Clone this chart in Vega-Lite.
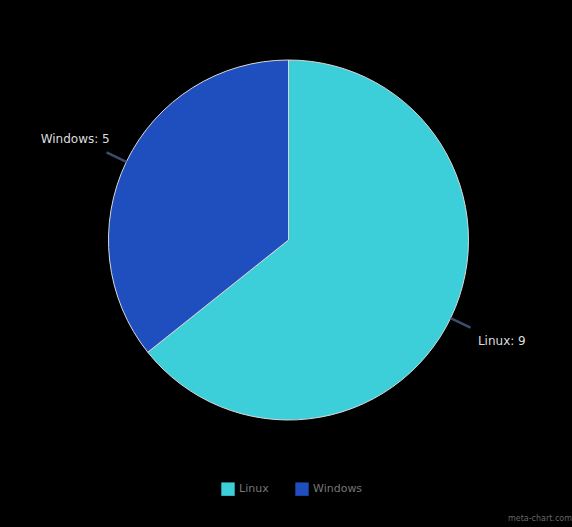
{
  "$schema": "https://vega.github.io/schema/vega-lite/v6.json",
  "autosize": {"type": "fit", "contains": "padding"},
  "width": 572,
  "height": 527,
  "padding": {"left": 5, "top": 5, "right": 0, "bottom": 4},
  "background": "#000000",
  "config": {"view": {"stroke": null, "fill": "#000000"}},
  "title": {"text": "meta-chart.com", "orient": "bottom", "anchor": "end", "fontSize": 8, "fontWeight": "normal", "color": "#666666", "offset": 40, "font": "DejaVu Sans"},
  "data": {"values": [
    {"category": "Linux", "value": 9, "order": 1, "label": "Linux: 9"},
    {"category": "Windows", "value": 5, "order": 2, "label": "Windows: 5"}
  ]},
  "transform": [
    {"stack": "value", "groupby": [], "sort": [{"field": "order"}], "as": ["s0", "s1"]},
    {"calculate": "(datum.s0 + datum.s1) / 2 - 0.015", "as": "m0"},
    {"calculate": "(datum.s0 + datum.s1) / 2 + 0.015", "as": "m1"}
  ],
  "layer": [
    {
      "mark": {"type": "arc", "radius": 180, "stroke": "#d8d8d8", "strokeWidth": 1},
      "encoding": {
        "theta": {"field": "s0", "type": "quantitative", "scale": {"domain": [0, 14], "range": [0, 6.283185]}},
        "theta2": {"field": "s1"},
        "color": {"field": "category", "type": "nominal", "sort": ["Linux", "Windows"],
          "scale": {"domain": ["Linux", "Windows"], "range": ["#3ccfd9", "#1f4fbe"]},
          "legend": {"orient": "none", "legendX": 216, "legendY": 477, "direction": "horizontal", "title": null, "symbolType": "square", "symbolSize": 180, "symbolStrokeWidth": 0,
            "labelColor": "#777777", "labelFontSize": 11, "labelFont": "DejaVu Sans", "columnPadding": 26}}
      }
    },
    {
      "mark": {"type": "arc", "radius": 202, "radius2": 180, "color": "#3c4c6c"},
      "encoding": {
        "theta": {"field": "m0", "type": "quantitative", "scale": {"domain": [0, 14], "range": [0, 6.283185]}},
        "theta2": {"field": "m1"}
      }
    },
    {
      "mark": {"type": "text", "radius": 236, "color": "#dddddd", "fontSize": 12, "font": "DejaVu Sans", "align": "center", "baseline": "middle"},
      "encoding": {
        "theta": {"field": "m0", "type": "quantitative", "scale": {"domain": [0, 14], "range": [0, 6.283185]}},
        "text": {"field": "label"}
      }
    }
  ]
}
